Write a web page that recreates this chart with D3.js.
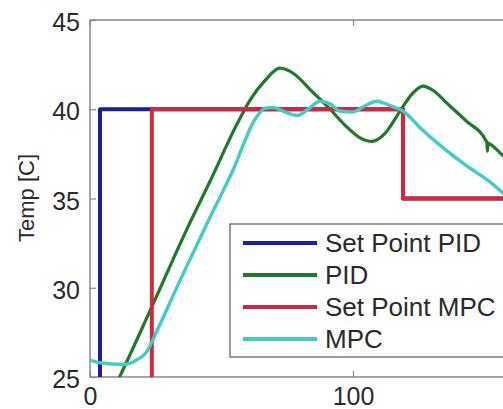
<!DOCTYPE html>
<html>
<head>
<meta charset="utf-8">
<script src="https://cdn.jsdelivr.net/npm/d3@7"></script>
<style>
    body { margin: 0; background: #fff; }
    svg { display: block; font-family: "Liberation Sans", Arial, sans-serif; }
</style>
</head>
<body>
<div id="chart"></div>
<script>

// series names / colours (legend order = draw order)
const seriesNames = ["Set Point PID", "PID", "Set Point MPC", "MPC"];
const seriesColors = ["#1d1c9e", "#22782a", "#d2283f", "#44cbc3"];

// Set Point PID
const spPidTime = [3.8, 3.8, 119, 119, 170];
const spPidTemp = [20, 40, 40, 35, 35];

// PID response
const pidTime = [7.6, 11.4, 22.8, 36.9, 45.6, 56.0, 60.8, 66.5, 72.2, 77.9, 83.7, 91.3, 97.0, 102.7,
    107.2, 112.2, 117.9, 122.4, 126.6, 130.5, 136.0, 143.0, 150.9, 151.1, 151.4, 152.1, 157.0, 163.5];
const pidTemp = [23.9, 25.05, 28.7, 33.3, 35.95, 39.2, 40.5, 41.6, 42.3, 41.95, 41.1, 40.0, 39.1, 38.4,
    38.2, 38.65, 39.9, 40.85, 41.3, 41.05, 40.3, 39.35, 38.15, 37.65, 38.1, 38.05, 37.4, 36.5];

// Set Point MPC
const spMpcTime = [23.5, 23.5, 119, 119, 170];
const spMpcTemp = [20, 40, 40, 35, 35];

// MPC response
const mpcTime = [0, 3.8, 12.5, 17.1, 21.7, 25.5, 34.2, 44.5, 54.4, 63.0, 66.5, 69.6, 74.1, 78.7, 82.9,
    87.5, 91.3, 95.1, 100, 104.6, 109.1, 114.1, 119, 126.0, 134.2, 143.0, 153.2, 157, 163.5];
const mpcTemp = [25.95, 25.8, 25.7, 25.9, 26.45, 27.6, 30.4, 33.6, 36.6, 39.5, 40.05, 40.1, 39.85, 39.65, 40.0,
    40.45, 40.3, 39.9, 39.85, 40.2, 40.45, 40.2, 39.9, 38.9, 37.85, 36.85, 35.8, 35.3, 34.6];

const xTicks = [0, 100];
const yTicks = [25, 30, 35, 40, 45];

const W = 503, H = 409;
const plot = {left: 90, top: 20, bottom: 377, right: 616};

const svg = d3.select("#chart").append("svg")
    .attr("width", W)
    .attr("height", H);

const x = d3.scaleLinear().domain([0, 200]).range([plot.left, plot.right]);
const y = d3.scaleLinear().domain([25, 45]).range([plot.bottom, plot.top]);

svg.append("clipPath").attr("id", "clip")
    .append("rect")
    .attr("x", plot.left).attr("y", plot.top)
    .attr("width", plot.right - plot.left)
    .attr("height", plot.bottom - plot.top);

// box
svg.append("rect")
    .attr("x", plot.left).attr("y", plot.top)
    .attr("width", plot.right - plot.left)
    .attr("height", plot.bottom - plot.top)
    .attr("fill", "#fff")
    .attr("stroke", "#8a8a8a")
    .attr("stroke-width", 1.5);

// axes (ticks inside, MATLAB style)
const xAxisB = d3.axisBottom(x).tickValues(xTicks).tickSize(-6).tickPadding(10);
const xAxisT = d3.axisTop(x).tickValues(xTicks).tickSize(-6).tickFormat("");
const yAxisL = d3.axisLeft(y).tickValues(yTicks).tickSize(-6).tickPadding(10);

function styleAxis(g) {
    g.select(".domain").remove();
    g.selectAll(".tick line").attr("stroke", "#8a8a8a").attr("stroke-width", 1.2);
    g.selectAll(".tick text").attr("fill", "#2a2a2a").style("font-size", "25px");
}

svg.append("g").attr("transform", `translate(0,${plot.bottom})`).call(xAxisB).call(styleAxis)
    .selectAll(".tick text").attr("dy", "0.72em");
svg.append("g").attr("transform", `translate(0,${plot.top})`).call(xAxisT).call(styleAxis);
svg.append("g").attr("transform", `translate(${plot.left},0)`).call(yAxisL).call(styleAxis)
    .selectAll(".tick text").attr("dy", "0.42em");

// y label
svg.append("text")
    .attr("transform", `translate(34,198) rotate(-90)`)
    .attr("text-anchor", "middle")
    .attr("fill", "#2a2a2a")
    .style("font-size", "22px")
    .text("Temp [C]");

// lines
const series = [
    {time: spPidTime, temp: spPidTemp, width: 4, smooth: false},
    {time: pidTime, temp: pidTemp, width: 3.2, smooth: true},
    {time: spMpcTime, temp: spMpcTemp, width: 4, smooth: false},
    {time: mpcTime, temp: mpcTemp, width: 3.4, smooth: true}
];

const stepLine = d3.line()
    .x(d => x(d[0]))
    .y(d => y(d[1]));

const smoothLine = d3.line()
    .curve(d3.curveMonotoneX)
    .x(d => x(d[0]))
    .y(d => y(d[1]));

const lines = svg.append("g").attr("clip-path", "url(#clip)");
series.forEach((s, i) => {
    const gen = s.smooth ? smoothLine : stepLine;
    lines.append("path")
        .attr("d", gen(d3.zip(s.time, s.temp)))
        .attr("fill", "none")
        .attr("stroke", seriesColors[i])
        .attr("stroke-width", s.width)
        .attr("stroke-linejoin", "round");
});

// legend
const legend = svg.append("g").attr("transform", "translate(230,224)");
legend.append("rect")
    .attr("width", 300).attr("height", 133)
    .attr("fill", "#fff")
    .attr("stroke", "#7a7a7a")
    .attr("stroke-width", 1.5);

const rows = legend.selectAll(".row")
    .data(seriesNames)
    .enter().append("g")
    .attr("transform", (d, i) => `translate(0,${19 + i * 32})`);

rows.append("line")
    .attr("x1", 13).attr("x2", 87)
    .attr("stroke", (d, i) => seriesColors[i])
    .attr("stroke-width", 4);

rows.append("text")
    .attr("x", 95)
    .attr("dy", "0.36em")
    .attr("fill", "#2a2a2a")
    .style("font-size", "26px")
    .text(d => d);

</script>
</body>
</html>
